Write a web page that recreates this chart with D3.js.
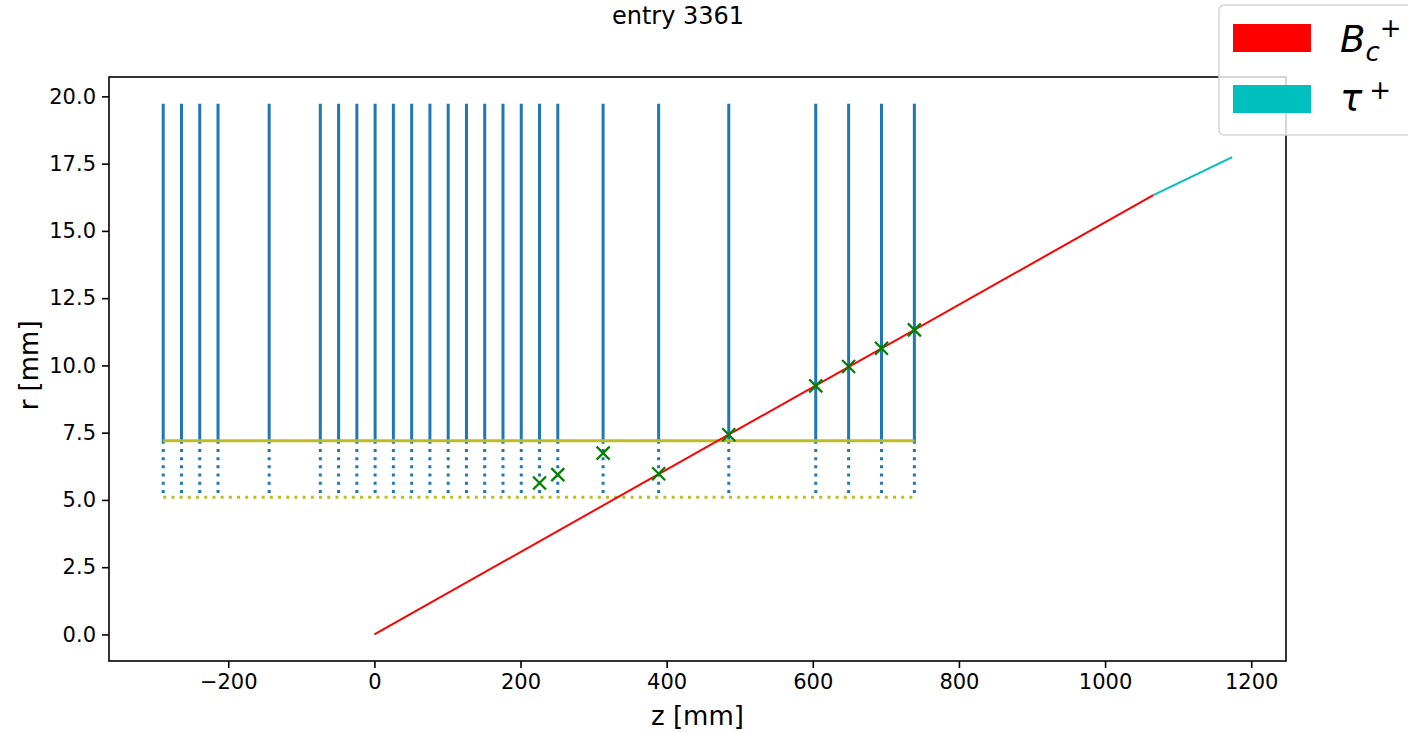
<!DOCTYPE html>
<html>
<head>
<meta charset="utf-8">
<script src="https://cdn.jsdelivr.net/npm/d3@7"></script>
<style>
  body { margin: 0; background: #fff; }
  svg { font-family: "DejaVu Sans", sans-serif; display: block; }
</style>
</head>
<body>
<svg id="canvas" width="1408" height="733"></svg>
<script>
// Detector station z positions [mm]
var STATION_Z = [-289, -264, -239, -214, -144, -74, -49, -24, 1, 26, 51, 76, 101,
  126, 151, 176, 201, 226, 251, 313, 389, 485, 604, 649, 694, 739];
// Station radii [mm]
var R_INNER = 5.1;
var R_MID = 7.2;
var R_OUTER = 19.73;

// Hits (green crosses)
var HIT_Z = [226, 251, 313, 389, 485, 604, 649, 694, 739];
var HIT_R = [5.63, 5.94, 6.74, 5.97, 7.42, 9.24, 9.96, 10.64, 11.32];

// Particle tracks
var BC_TRACK = [[0, 0], [1066, 16.33]];
var TAU_TRACK = [[1066, 16.33], [1174, 17.74]];

var X_TICKS = [-200, 0, 200, 400, 600, 800, 1000, 1200];
var Y_TICKS = [0, 2.5, 5, 7.5, 10, 12.5, 15, 17.5, 20];

var margin = { top: 77, right: 122, bottom: 72, left: 109 };
var canvas = d3.select('#canvas');
var width = 1408, height = 733;

var x = d3.scaleLinear().domain([-363.2, 1247.6]).range([margin.left, width - margin.right]);
var y = d3.scaleLinear().domain([-0.987, 20.72]).range([height - margin.bottom, margin.top]);

var plot = canvas.append('g');

// Solid station lines
plot.selectAll('.station')
  .data(STATION_Z)
  .enter().append('line')
  .attr('x1', function (d) { return x(d); })
  .attr('x2', function (d) { return x(d); })
  .attr('y1', y(R_MID))
  .attr('y2', y(R_OUTER))
  .attr('stroke', '#1f77b4')
  .attr('stroke-width', 3);

// Dotted inner parts
plot.selectAll('.station-inner')
  .data(STATION_Z)
  .enter().append('line')
  .attr('x1', function (d) { return x(d); })
  .attr('x2', function (d) { return x(d); })
  .attr('y1', y(R_MID))
  .attr('y2', y(R_INNER))
  .attr('stroke', '#1f77b4')
  .attr('stroke-width', 3)
  .attr('stroke-dasharray', '3,5.2');

var zMin = d3.min(STATION_Z), zMax = d3.max(STATION_Z);

plot.append('line')
  .attr('x1', x(zMin)).attr('x2', x(zMax))
  .attr('y1', y(R_MID)).attr('y2', y(R_MID))
  .attr('stroke', '#bcbd22')
  .attr('stroke-width', 3);

plot.append('line')
  .attr('x1', x(zMin)).attr('x2', x(zMax))
  .attr('y1', y(R_INNER)).attr('y2', y(R_INNER))
  .attr('stroke', '#bcbd22')
  .attr('stroke-width', 3)
  .attr('stroke-dasharray', '3,5.2');

// Tracks
var line = d3.line()
  .x(function (d) { return x(d[0]); })
  .y(function (d) { return y(d[1]); });

plot.append('path')
  .attr('d', line(BC_TRACK))
  .attr('fill', 'none')
  .attr('stroke', '#ff0000')
  .attr('stroke-width', 2);

plot.append('path')
  .attr('d', line(TAU_TRACK))
  .attr('fill', 'none')
  .attr('stroke', '#00bfbf')
  .attr('stroke-width', 2);

// Hit markers
var s = 6.5;
plot.selectAll('.hit')
  .data(HIT_Z)
  .enter().append('path')
  .attr('d', function (d, i) {
    var cx = x(d), cy = y(HIT_R[i]);
    return 'M' + (cx - s) + ',' + (cy - s) + 'L' + (cx + s) + ',' + (cy + s) +
      'M' + (cx - s) + ',' + (cy + s) + 'L' + (cx + s) + ',' + (cy - s);
  })
  .attr('stroke', '#008000')
  .attr('stroke-width', 2.2);

// Axes
var xAxis = d3.axisBottom(x).tickValues(X_TICKS).tickSize(7).tickPadding(6)
  .tickFormat(function (d) { return d < 0 ? '\u2212' + Math.abs(d) : d; });
var yAxis = d3.axisLeft(y).tickValues(Y_TICKS).tickSize(7).tickPadding(6)
  .tickFormat(d3.format('.1f'));

var gx = canvas.append('g')
  .attr('transform', 'translate(0,' + (height - margin.bottom) + ')')
  .call(xAxis);
var gy = canvas.append('g')
  .attr('transform', 'translate(' + margin.left + ',0)')
  .call(yAxis);

[gx, gy].forEach(function (g) {
  g.select('.domain').remove();
  g.selectAll('line').attr('stroke', '#000').attr('stroke-width', 1.6);
  g.selectAll('text').attr('font-size', 21).attr('fill', '#000')
    .attr('font-family', 'DejaVu Sans');
});

// Frame
canvas.append('rect')
  .attr('x', margin.left)
  .attr('y', margin.top)
  .attr('width', width - margin.right - margin.left)
  .attr('height', height - margin.bottom - margin.top)
  .attr('fill', 'none')
  .attr('stroke', '#000')
  .attr('stroke-width', 1.6);

// Labels
canvas.append('text')
  .attr('x', 678).attr('y', 24)
  .attr('text-anchor', 'middle')
  .attr('font-size', 24)
  .text('entry 3361');

canvas.append('text')
  .attr('x', (margin.left + width - margin.right) / 2).attr('y', 725)
  .attr('text-anchor', 'middle')
  .attr('font-size', 26)
  .text('z [mm]');

canvas.append('text')
  .attr('transform', 'translate(38,' + y(10) + ') rotate(-90)')
  .attr('text-anchor', 'middle')
  .attr('font-size', 26)
  .text('r [mm]');

// Legend
var legend = canvas.append('g');
legend.append('rect')
  .attr('x', 1219).attr('y', 5)
  .attr('width', 220).attr('height', 130)
  .attr('rx', 5)
  .attr('fill', 'rgba(255,255,255,0.8)')
  .attr('stroke', '#d5d5d5')
  .attr('stroke-width', 1.5);

var LEGEND_COLORS = ['#ff0000', '#00bfbf'];
legend.selectAll('.patch')
  .data(LEGEND_COLORS)
  .enter().append('rect')
  .attr('x', 1233)
  .attr('y', function (d, i) { return 24 + i * 61; })
  .attr('width', 78)
  .attr('height', 28)
  .attr('fill', function (d) { return d; });

// B_c^+ as one text with shifted parts
var t1 = legend.append('text').attr('x', 1340).attr('y', 52).attr('font-size', 37);
t1.append('tspan').attr('font-style', 'italic').text('B');
t1.append('tspan').attr('font-style', 'italic').attr('font-size', 26).attr('dy', 9).text('c');
t1.append('tspan').attr('font-size', 26).attr('dx', 0).attr('dy', -24).text('+');

var t2 = legend.append('text').attr('x', 1340).attr('y', 111).attr('font-size', 37);
t2.append('tspan').attr('font-style', 'italic').text('\u03c4');
t2.append('tspan').attr('font-size', 26).attr('dx', 7).attr('dy', -12).text('+');
</script>
</body>
</html>
